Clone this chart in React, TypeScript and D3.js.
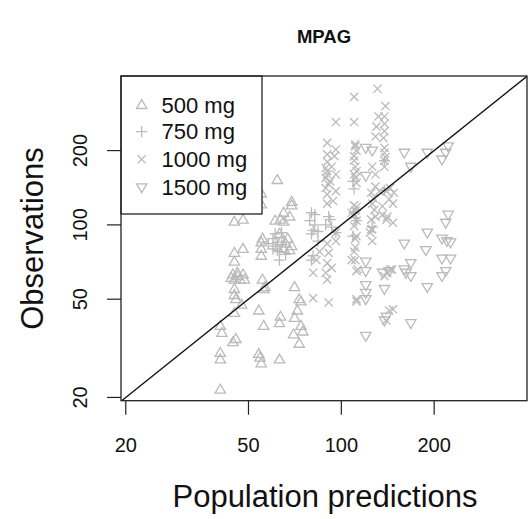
import React from "react";
import * as d3 from "d3";

const W = 528;
const H = 519;

const doseLabels = ["500 mg", "750 mg", "1000 mg", "1500 mg"];
const doseShapes = ["triUp", "plus", "cross", "triDown"];
const xTicks = [20, 50, 100, 200];
const yTicks = [20, 50, 100, 200];

// [population prediction, observation]
const dose500: [number, number][] = [
  [62, 152], [55, 134], [55, 121], [45, 103], [48, 105], [69, 124], [69, 120], [65, 112], [63.5, 105], [68, 108], [65, 103], [61, 104],
  [55.5, 88], [55, 85], [55, 80], [55, 75], [48, 80], [45, 77], [45, 71],
  [63, 92], [64, 86], [66, 84], [67, 88], [68, 79], [65, 80], [69, 82],
  [44.5, 63], [46, 62], [48, 63], [45, 60], [47, 60], [48.5, 60], [44, 61], [46, 64],
  [45, 55], [45, 52], [45.5, 50], [47.5, 47.5], [45, 44],
  [55.5, 60], [56, 55], [56.5, 56], [70.5, 56], [73, 50], [74, 49], [54, 45], [72, 45], [70.5, 42], [63.5, 42.5], [63, 40], [56, 39],
  [40.5, 39], [41, 36.5], [44.5, 33.5], [45.5, 34.5], [74, 39], [75, 37], [70, 36], [73, 33], [40.5, 30.3], [40.5, 28.5],
  [54, 30], [54.5, 29], [55, 27.5], [63, 28.5], [40.5, 21.5],
];

const dose750: [number, number][] = [
  [60, 88], [62, 85], [64, 83], [60, 80], [63, 78], [66, 76], [61, 82], [58, 84], [61, 92], [64, 93], [62, 79], [63, 72],
  [82, 110], [82, 100], [80, 92], [84, 86], [81, 95], [84, 94], [92, 105], [93, 98], [96, 93], [80, 72], [80, 112], [79, 104],
  [91, 108], [89, 100], [81, 75],
  [109, 150], [110, 140], [110, 112], [111, 107], [109, 90], [126, 98], [138, 182], [138, 138], [112, 104],
];

const dose1000: [number, number][] = [
  [90, 215], [96, 202], [90, 193], [93, 172], [90, 160], [96, 160], [91, 146], [89, 141], [96, 137], [90, 122], [96, 93], [90, 84],
  [91, 77], [96, 86], [90, 70], [93, 67], [89, 64], [90, 60], [91, 48.5], [81, 50.5], [81, 64], [83, 72], [85, 78],
  [90, 180], [92, 150], [89, 170], [95, 190], [90, 133], [94, 125], [89, 155], [90, 165],
  [110, 330], [110, 261], [111, 212], [112, 200], [110, 182], [111, 172], [110, 160], [112, 148], [111, 114], [112, 104], [110, 99],
  [112, 90], [111, 81], [108, 72], [112, 65], [112, 49], [96, 261], [110, 78], [111, 72], [113, 66], [112, 50], [110, 110], [108, 112],
  [111, 208], [110, 190], [112, 165], [111, 155], [110, 120], [112, 118], [111, 88],
  [131, 356], [129, 228], [126, 172], [129, 160], [125, 135], [126, 122], [128, 115], [125, 105], [126, 96], [126, 86], [136, 110],
  [140, 105], [125, 96], [124, 93], [130, 250], [127, 128], [129, 108],
  [139, 303], [132, 275], [138, 275], [138, 257], [138, 240], [138, 205], [138, 196], [138, 182], [138, 172], [129, 143], [133, 137],
  [140, 137], [144, 141], [148, 135], [143, 127], [147, 122], [136, 119], [141, 108], [147, 102], [144, 66], [138, 62], [143, 45],
  [147, 45.5], [140, 41], [146, 66], [141, 64], [137, 225], [139, 188],
];

const dose1500: [number, number][] = [
  [120, 205], [126, 200], [120, 158], [160, 196], [168, 172], [190, 196], [212, 184], [218, 196], [222, 208],
  [222, 110], [218, 102], [190, 93], [160, 84], [188, 79], [212, 88], [220, 86], [226, 85], [212, 73], [226, 73], [218, 65], [212, 62],
  [120, 71], [120, 65], [136, 64], [143, 65], [160, 66], [162, 64], [168, 62], [168, 70], [190, 56],
  [120, 57], [120, 53], [120, 50], [138, 55], [138, 41], [140, 42.5], [168, 40], [120, 35.5],
];

const doseData = [dose500, dose750, dose1000, dose1500];

const FONT = "'Liberation Sans', Arial, Helvetica, sans-serif";
const GRAY = "#bababa";

function markerPath(shape: string): string {
  switch (shape) {
    case "triUp":
      return "M0,-5.4L5.2,3.5L-5.2,3.5Z";
    case "triDown":
      return "M0,5.4L5.2,-3.5L-5.2,-3.5Z";
    case "plus":
      return "M-5.6,0L5.6,0M0,-5.6L0,5.6";
    default:
      return "M-4.1,-4.1L4.1,4.1M-4.1,4.1L4.1,-4.1";
  }
}

export default function App() {
  const left = 121, right = 527, top = 76, bottom = 400.7;
  const x = d3.scaleLog().domain([19.3, 400]).range([left, right]);
  const y = d3.scaleLog().domain([19.4, 401]).range([bottom, top]);
  const lo = Math.max(19.3, 19.4);
  const hi = Math.min(400, 401);
  const diag = d3.line<number>().x((v) => x(v)).y((v) => y(v))([lo, hi]) || "";

  const legendRows = [105, 131.7, 159.3, 187.3];

  return (
    <svg width={W} height={H} style={{ position: "absolute", left: 0, top: 0, background: "#fff" }}>
      <rect x={0} y={0} width={W} height={H} fill="#fff" />
      <defs>
        <clipPath id="plotclip">
          <rect x={left} y={top} width={right - left} height={bottom - top} />
        </clipPath>
      </defs>
      <text x={324} y={42.5} textAnchor="middle" fontFamily={FONT} fontWeight="bold" fontSize={18.5} fill="#111">
        MPAG
      </text>

      <g clipPath="url(#plotclip)">
        {doseData.map((pts, i) => (
          <g key={i}>
            {pts.map((p, j) => (
              <path
                key={j}
                d={markerPath(doseShapes[i])}
                transform={`translate(${x(p[0])},${y(p[1])})`}
                fill="none"
                stroke={GRAY}
                strokeWidth={1.3}
              />
            ))}
          </g>
        ))}
        <path d={diag} stroke="#111" strokeWidth={1.4} fill="none" />
      </g>

      {/* legend */}
      <rect x={left} y={top} width={262 - left} height={214 - top} fill="#fff" stroke="#222" strokeWidth={1.3} />
      {doseLabels.map((lab, i) => (
        <g key={lab}>
          <path
            d={markerPath(doseShapes[i])}
            transform={`translate(${141.7},${legendRows[i]})`}
            fill="none"
            stroke={GRAY}
            strokeWidth={1.3}
          />
          <text x={161.5} y={legendRows[i] + 7.5} fontFamily={FONT} fontSize={22} fill="#111">
            {lab}
          </text>
        </g>
      ))}

      <rect x={left} y={top} width={right - left} height={bottom - top} fill="none" stroke="#222" strokeWidth={1.3} />

      {/* x axis */}
      {xTicks.map((t) => (
        <g key={`x${t}`}>
          <line x1={x(t)} x2={x(t)} y1={bottom} y2={bottom + 14} stroke="#222" strokeWidth={1.2} />
          <text x={x(t)} y={452} textAnchor="middle" fontFamily={FONT} fontSize={20} fill="#111">
            {t}
          </text>
        </g>
      ))}
      {/* y axis */}
      {yTicks.map((t) => (
        <g key={`y${t}`}>
          <line x1={left - 14} x2={left} y1={y(t)} y2={y(t)} stroke="#222" strokeWidth={1.2} />
          <text
            transform={`translate(${87},${y(t)}) rotate(-90)`}
            textAnchor="middle"
            fontFamily={FONT}
            fontSize={20}
            fill="#111"
          >
            {t}
          </text>
        </g>
      ))}

      <text x={325} y={507} textAnchor="middle" fontFamily={FONT} fontSize={31} fill="#111">
        Population predictions
      </text>
      <text
        transform={`translate(${43},${238.5}) rotate(-90)`}
        textAnchor="middle"
        fontFamily={FONT}
        fontSize={31}
        fill="#111"
      >
        Observations
      </text>
    </svg>
  );
}
